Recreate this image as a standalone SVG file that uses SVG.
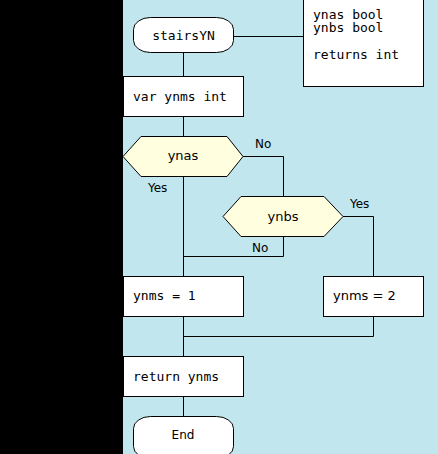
<svg xmlns="http://www.w3.org/2000/svg" width="438" height="454" viewBox="0 0 438 454">
<style>
.box{fill:#fff;stroke:#000;stroke-width:1}
.dec{fill:#ffffe0;stroke:#000;stroke-width:1}
.ln{fill:none;stroke:#000;stroke-width:1}
.mono{font-family:"DejaVu Sans Mono","Liberation Mono",monospace;font-size:13px;fill:#000}
.sans{font-family:"DejaVu Sans","Liberation Sans",sans-serif;font-size:13px;fill:#000}
.lbl{font-family:"DejaVu Sans","Liberation Sans",sans-serif;font-size:12px;fill:#000}
</style>
<rect x="0" y="0" width="438" height="454" fill="#c2e6ee"/>
<rect x="0" y="0" width="123" height="454" fill="#000"/>
<g id="connectors">
<path class="ln" d="M183.5 52V76.5"/>
<path class="ln" d="M233 36.5H303.5"/>
<path class="ln" d="M183.5 116.5V136.5"/>
<path class="ln" d="M243 156.5H283.5V196.5"/>
<path class="ln" d="M183.5 176.5V276.5"/>
<path class="ln" d="M343 216.5H373.5V276.5"/>
<path class="ln" d="M283.5 236.5V256.5H183.5"/>
<path class="ln" d="M183.5 316.5V356.5"/>
<path class="ln" d="M373.5 316.5V336.5H183.5"/>
<path class="ln" d="M183.5 396.5V416.5"/>
<text class="lbl" x="255" y="147.5">No</text>
<text class="lbl" x="148" y="192">Yes</text>
<text class="lbl" x="350" y="208">Yes</text>
<text class="lbl" x="252" y="251.5">No</text>
</g>
<g id="start">
<rect class="box" x="133.5" y="17.5" width="100" height="35" rx="17" ry="12"/>
<text class="mono" x="183.5" y="39.5" text-anchor="middle">stairsYN</text>
</g>
<g id="comment">
<rect class="box" x="303.5" y="-1" width="120" height="87.5"/>
<text class="mono"><tspan x="313" y="19">ynas bool</tspan><tspan x="313" y="32">ynbs bool</tspan><tspan x="313" y="58.5">returns int</tspan></text>
</g>
<g id="declare">
<rect class="box" x="123.5" y="76.5" width="120" height="40"/>
<text class="mono" x="133" y="100.5">var ynms int</text>
</g>
<g id="ynas">
<polygon class="dec" points="123,156.5 141,136.5 227,136.5 243,156.5 227,176.5 141,176.5"/>
<text class="sans" x="183" y="160" text-anchor="middle">ynas</text>
</g>
<g id="ynbs">
<polygon class="dec" points="223,216.5 241,196.5 324,196.5 343,216.5 324,236.5 241,236.5"/>
<text class="sans" x="283" y="220.5" text-anchor="middle">ynbs</text>
</g>
<g id="assign1">
<rect class="box" x="123.5" y="276.5" width="120" height="40"/>
<text class="mono" x="133" y="299.5">ynms = 1</text>
</g>
<g id="assign2">
<rect class="box" x="323.5" y="276.5" width="100" height="40"/>
<text class="sans" x="333" y="299.5">ynms = 2</text>
</g>
<g id="return">
<rect class="box" x="123.5" y="356.5" width="120" height="40"/>
<text class="mono" x="133" y="380.5">return ynms</text>
</g>
<g id="end">
<rect class="box" x="133.5" y="416.5" width="100" height="42" rx="17" ry="12"/>
<text class="lbl" x="183" y="439" text-anchor="middle">End</text>
</g>
</svg>
